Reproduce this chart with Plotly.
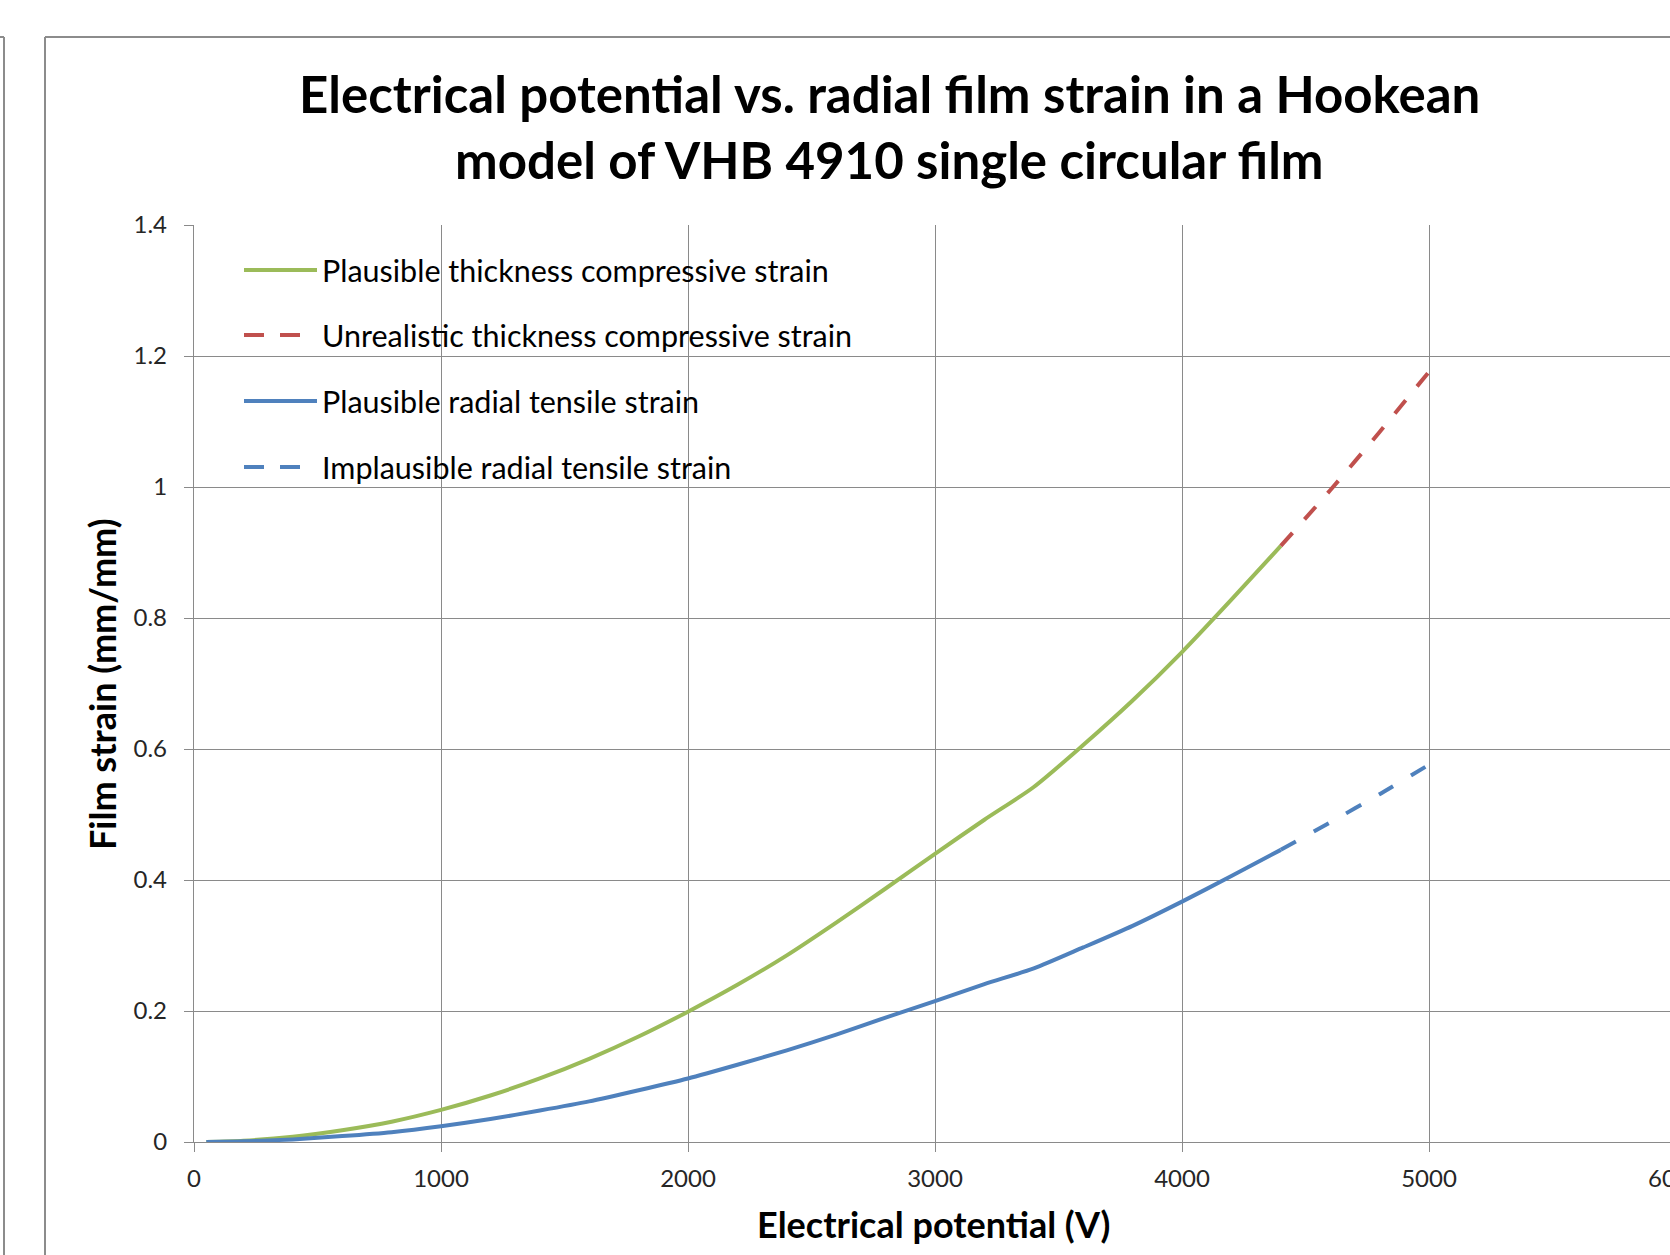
import plotly.graph_objects as go

# ---------------- data ----------------
voltage_plausible = [50, 200, 400, 600, 800, 1000, 1200, 1400, 1600, 1800, 2000,
                     2200, 2400, 2600, 2800, 3000, 3200, 3400, 3600, 3800, 4000,
                     4200, 4400]
thickness_plausible = [0.0001, 0.002, 0.008, 0.018, 0.031, 0.049, 0.071, 0.097,
                       0.127, 0.161, 0.199, 0.240, 0.285, 0.335, 0.387, 0.440,
                       0.492, 0.542, 0.606, 0.674, 0.748, 0.828, 0.910]
radial_plausible = [0.0001, 0.001, 0.004, 0.009, 0.015, 0.024, 0.035, 0.048,
                    0.062, 0.079, 0.097, 0.118, 0.140, 0.164, 0.190, 0.215,
                    0.241, 0.265, 0.297, 0.330, 0.367, 0.406, 0.446]

voltage_extrapolated = [4400, 4600, 4800, 5000]
thickness_unrealistic = [0.910, 0.995, 1.084, 1.176]
radial_implausible = [0.446, 0.488, 0.531, 0.576]

x_tick_values = [0, 1000, 2000, 3000, 4000, 5000]
y_tick_values = [0, 0.2, 0.4, 0.6, 0.8, 1.0, 1.2, 1.4]
y_tick_text = ["0", "0.2", "0.4", "0.6", "0.8", "1", "1.2", "1.4"]
clipped_tick_label = "6000"

series_names = ["Plausible thickness compressive strain",
                "Unrealistic thickness compressive strain",
                "Plausible radial tensile strain",
                "Implausible radial tensile strain"]

title_lines = ["Electrical potential vs. radial film strain in a Hookean",
               "model of VHB 4910 single circular film"]
x_title = "Electrical potential (V)"
y_title = "Film strain (mm/mm)"

# ---------------- styling / layout ----------------
GREEN = "#9BBB59"
RED = "#C0504D"
BLUE = "#4F81BD"
GRID = "#8a8a8a"
BORDER = "#8c8c8c"
TICK_COLOR = "#262626"
FONT = "Lato"

W, H = 1670, 1255
ML, MR, MT, MB = 194, 0, 225, 113
PW, PH = W - ML - MR, H - MT - MB
PX_PER_VOLT = 0.247
X_MAX = PW / PX_PER_VOLT


def px(x):
    return (x - ML) / PW


def py(y):
    return (H - MB - y) / PH


fig = go.Figure()
fig.add_trace(go.Scatter(x=voltage_plausible, y=thickness_plausible, mode="lines",
                         name=series_names[0],
                         line=dict(color=GREEN, width=4, shape="spline", smoothing=0.7),
                         showlegend=False))
fig.add_trace(go.Scatter(x=voltage_extrapolated, y=thickness_unrealistic, mode="lines",
                         name=series_names[1],
                         line=dict(color=RED, width=4, dash="17px,18px",
                                   shape="spline", smoothing=0.7),
                         showlegend=False))
fig.add_trace(go.Scatter(x=voltage_plausible, y=radial_plausible, mode="lines",
                         name=series_names[2],
                         line=dict(color=BLUE, width=4, shape="spline", smoothing=0.7),
                         showlegend=False))
fig.add_trace(go.Scatter(x=voltage_extrapolated, y=radial_implausible, mode="lines",
                         name=series_names[3],
                         line=dict(color=BLUE, width=4, dash="17px,20.5px",
                                   shape="spline", smoothing=0.7),
                         showlegend=False))

shapes = []
annotations = []

# chart-area borders (Excel frame) and neighbouring chart edge
border = dict(color=BORDER, width=2)
shapes.append(dict(type="line", xref="paper", yref="paper", x0=px(45), x1=px(1680),
                   y0=py(37), y1=py(37), line=border))
shapes.append(dict(type="line", xref="paper", yref="paper", x0=px(45), x1=px(45),
                   y0=py(37), y1=py(1265), line=border))
shapes.append(dict(type="line", xref="paper", yref="paper", x0=px(-5), x1=px(4),
                   y0=py(37), y1=py(37), line=border))
shapes.append(dict(type="line", xref="paper", yref="paper", x0=px(4), x1=px(4),
                   y0=py(37), y1=py(1265), line=border))

# manual legend (Excel-style long symbol lines)
legend_rows = [270, 335, 401, 467]
legend_colors = [GREEN, RED, BLUE, BLUE]
legend_dashed = [False, True, False, True]
for name, yrow, col, dashed in zip(series_names, legend_rows, legend_colors, legend_dashed):
    if dashed:
        shapes.append(dict(type="line", xref="paper", yref="paper", x0=px(244), x1=px(301),
                           y0=py(yrow), y1=py(yrow),
                           line=dict(color=col, width=4, dash="20px,16px")))
    else:
        shapes.append(dict(type="line", xref="paper", yref="paper", x0=px(244), x1=px(317),
                           y0=py(yrow), y1=py(yrow), line=dict(color=col, width=4)))
    annotations.append(dict(text=name, xref="paper", yref="paper", x=px(320), y=py(yrow),
                            xanchor="left", yanchor="middle", showarrow=False,
                            font=dict(family=FONT, size=30.5, color="#000000")))

# title
for line, ycen in zip(title_lines, [93, 159]):
    annotations.append(dict(text="<b>%s</b>" % line, xref="paper", yref="paper",
                            x=px(889), y=py(ycen), xanchor="center", yanchor="middle",
                            showarrow=False, font=dict(family=FONT, size=51, color="#000000")))

# axis titles
annotations.append(dict(text="<b>%s</b>" % x_title, xref="paper", yref="paper",
                        x=px(934), y=py(1224), xanchor="center", yanchor="middle",
                        showarrow=False, font=dict(family=FONT, size=36, color="#000000")))
annotations.append(dict(text="<b>%s</b>" % y_title, xref="paper", yref="paper",
                        x=px(102), y=py(684), xanchor="center", yanchor="middle",
                        textangle=-90, showarrow=False,
                        font=dict(family=FONT, size=36, color="#000000")))

# tick label of 6000, which sits on the cropped right edge
annotations.append(dict(text=clipped_tick_label, xref="paper", yref="paper",
                        x=px(ML + 6000 * PX_PER_VOLT), y=py(1177), xanchor="center",
                        yanchor="middle", showarrow=False,
                        font=dict(family=FONT, size=24, color=TICK_COLOR)))

fig.update_layout(
    width=W, height=H,
    margin=dict(l=ML, r=MR, t=MT, b=MB, pad=0),
    paper_bgcolor="white", plot_bgcolor="white",
    font=dict(family=FONT, size=24, color=TICK_COLOR),
    shapes=shapes, annotations=annotations,
    showlegend=False,
)
fig.update_xaxes(range=[0, X_MAX], tickvals=x_tick_values, tickformat="d",
                 showgrid=True, gridcolor=GRID, gridwidth=1.3,
                 showline=True, linecolor=GRID, linewidth=1.3,
                 ticks="outside", ticklen=9, tickcolor=GRID, tickwidth=1.3,
                 ticklabelstandoff=6, zeroline=False,
                 tickfont=dict(family=FONT, size=24, color=TICK_COLOR))
fig.update_yaxes(range=[0, 1.4], tickvals=y_tick_values, ticktext=y_tick_text,
                 showgrid=True, gridcolor=GRID, gridwidth=1.3,
                 showline=True, linecolor=GRID, linewidth=1.3,
                 ticks="outside", ticklen=9, tickcolor=GRID, tickwidth=1.3,
                 ticklabelstandoff=12, zeroline=False,
                 tickfont=dict(family=FONT, size=24, color=TICK_COLOR))

fig.write_html("out.html",
               config={"displayModeBar": False},
               post_script="document.body.style.margin='0px';"
                           "document.body.style.overflow='hidden';")
